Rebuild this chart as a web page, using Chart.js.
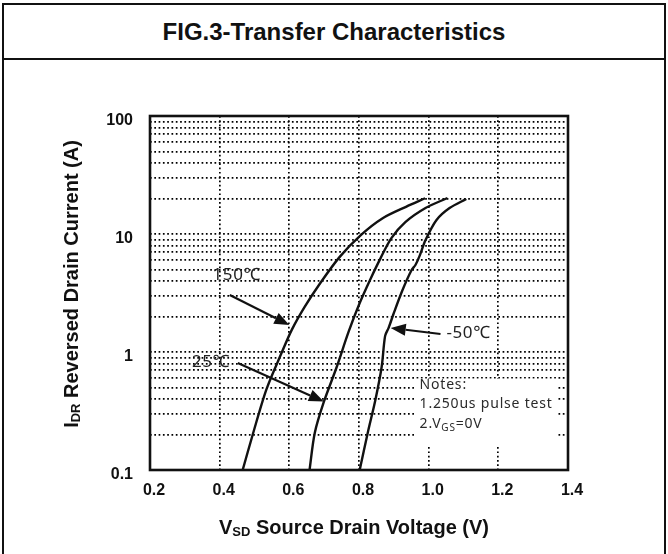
<!DOCTYPE html>
<html>
<head>
<meta charset="utf-8">
<title>FIG.3-Transfer Characteristics</title>
<script src="https://cdn.jsdelivr.net/npm/chart.js@4.4.1/dist/chart.umd.min.js"></script>
<style>
  html, body { margin: 0; padding: 0; background: #fff; overflow: hidden; }
  #wrap { position: relative; width: 668px; height: 554px; }
  #frame { position: absolute; left: 2px; top: 3px; width: 664px; height: 600px; box-sizing: border-box; border: 2px solid #111; }
  #title { position: absolute; left: 2px; top: 3px; width: 664px; height: 57px; box-sizing: border-box; border: 2px solid #111;
           font: bold 24px "Liberation Sans", Arial, sans-serif; color: #111; text-align: center; line-height: 53px; }
  #chart-box { position: absolute; left: 0; top: 0; width: 668px; height: 554px; }
</style>
</head>
<body>
<div id="wrap">
  <div id="frame"></div>
  <div id="title">FIG.3-Transfer Characteristics</div>
  <div id="chart-box"><canvas id="transferChart"></canvas></div>
</div>
<script>
"use strict";

// values (V_SD in volts, I_DR in amps)
var vsd150 = [0.466, 0.495, 0.534, 0.577, 0.607, 0.644, 0.687, 0.744, 0.806, 0.868, 0.935, 0.990];
var idr150 = [0.1, 0.2, 0.48, 0.97, 1.54, 2.41, 3.77, 6.37, 9.83, 13.6, 17.0, 20.1];

var vsd25 = [0.658, 0.673, 0.699, 0.736, 0.770, 0.802, 0.833, 0.862, 0.893, 0.933, 0.991, 1.054];
var idr25 = [0.1, 0.206, 0.377, 0.746, 1.48, 2.60, 4.16, 6.25, 9.23, 12.6, 16.6, 20.2];

var vsdM50 = [0.802, 0.825, 0.847, 0.865, 0.875, 0.885, 0.899, 0.925, 0.951, 0.962, 0.974, 0.991, 1.022, 1.060, 1.108];
var idrM50 = [0.1, 0.206, 0.392, 0.746, 1.37, 1.60, 2.10, 3.35, 4.95, 5.46, 6.52, 8.89, 13.1, 16.6, 19.8];

var seriesNames = ['150℃', '25℃', '-50℃'];

var xTicks = [0.2, 0.4, 0.6, 0.8, 1.0, 1.2, 1.4];
var yTicks = [0.1, 0.2, 0.3, 0.4, 0.5, 0.6, 0.7, 0.8, 0.9,
              1, 2, 3, 4, 5, 6, 7, 8, 9,
              10, 20, 30, 40, 50, 60, 70, 80, 90, 100];
var yTickLabels = ['0.1', '1', '10', '100'];

var transferChart = function () {
    var boldFont = '"Liberation Sans", Arial, sans-serif';
    var noteFont = '"Noto Sans", "DejaVu Sans", sans-serif';

    var toPoints = function (xs, ys) {
        return xs.map(function (v, i) { return { x: v, y: ys[i] }; });
    };

    // text with a subscript piece
    var drawSubText = function (ctx, parts, x, y, align) {
        var total = 0;
        parts.forEach(function (p) { ctx.font = p.font; total += ctx.measureText(p.text).width; });
        var cx = align === 'center' ? x - total / 2 : x;
        ctx.textAlign = 'left';
        ctx.textBaseline = 'alphabetic';
        parts.forEach(function (p) {
            ctx.font = p.font;
            ctx.fillText(p.text, cx, y + (p.dy || 0));
            cx += ctx.measureText(p.text).width;
        });
        return total;
    };

    var drawArrow = function (ctx, x1, y1, x2, y2) {
        var ang = Math.atan2(y2 - y1, x2 - x1);
        var headLen = 15, headW = 6;
        var bx = x2 - headLen * Math.cos(ang), by = y2 - headLen * Math.sin(ang);
        ctx.beginPath();
        ctx.moveTo(x1, y1);
        ctx.lineTo(bx, by);
        ctx.lineWidth = 2.2;
        ctx.strokeStyle = '#111';
        ctx.stroke();
        ctx.beginPath();
        ctx.moveTo(x2, y2);
        ctx.lineTo(bx + headW * Math.sin(ang), by - headW * Math.cos(ang));
        ctx.lineTo(bx - headW * Math.sin(ang), by + headW * Math.cos(ang));
        ctx.closePath();
        ctx.fillStyle = '#111';
        ctx.fill();
    };

    var decorPlugin = {
        id: 'sheetDecor',
        afterDatasetsDraw: function (chart) {
            var ctx = chart.ctx, area = chart.chartArea;
            var xs = chart.scales.x, ys = chart.scales.y;
            var px = function (v) { return xs.getPixelForValue(v); };
            var py = function (v) { return ys.getPixelForValue(v); };
            ctx.save();

            // white notes box over the grid
            var nx1 = px(0.963), nx2 = px(1.37), ny1 = py(0.595), ny2 = py(0.158);
            ctx.fillStyle = '#fff';
            ctx.fillRect(nx1, ny1, nx2 - nx1, ny2 - ny1);
            ctx.fillStyle = '#2a2a2a';
            var nLeft = px(0.974);
            ctx.letterSpacing = '0.8px';
            ctx.font = '14px ' + noteFont;
            ctx.textAlign = 'left';
            ctx.textBaseline = 'alphabetic';
            ctx.fillText('Notes:', nLeft, py(0.49));
            ctx.fillText('1.250us pulse test', nLeft, py(0.333));
            drawSubText(ctx, [
                { text: '2.V', font: '14px ' + noteFont },
                { text: 'GS', font: '10px ' + noteFont, dy: 3 },
                { text: '=0V', font: '14px ' + noteFont }
            ], nLeft, py(0.228), 'left');

            // curve labels and arrows
            ctx.letterSpacing = '0.6px';
            ctx.font = '17px ' + noteFont;
            ctx.fillStyle = '#222';
            ctx.textBaseline = 'middle';
            ctx.textAlign = 'center';
            ctx.fillText(seriesNames[0], px(0.449), py(4.5));
            ctx.fillText(seriesNames[1], px(0.375), py(0.82));
            ctx.textAlign = 'left';
            ctx.fillText(seriesNames[2], px(1.051), py(1.45));
            ctx.letterSpacing = '0px';
            drawArrow(ctx, px(0.429), py(3.04), px(0.600), py(1.69));
            drawArrow(ctx, px(0.452), py(0.807), px(0.699), py(0.38));
            drawArrow(ctx, px(1.034), py(1.42), px(0.891), py(1.6));

            // plot frame
            ctx.lineWidth = 2.6;
            ctx.strokeStyle = '#111';
            ctx.strokeRect(area.left, area.top, area.right - area.left, area.bottom - area.top);

            // axis titles with subscripts
            ctx.fillStyle = '#111';
            drawSubText(ctx, [
                { text: 'V', font: 'bold 20px ' + boldFont },
                { text: 'SD', font: 'bold 13px ' + boldFont, dy: 2 },
                { text: ' Source Drain Voltage (V)', font: 'bold 20px ' + boldFont }
            ], (area.left + area.right) / 2 - 5, area.bottom + 64, 'center');

            ctx.translate(area.left - 72, (area.top + area.bottom) / 2 - 9);
            ctx.rotate(-Math.PI / 2);
            drawSubText(ctx, [
                { text: 'I', font: 'bold 20px ' + boldFont },
                { text: 'DR', font: 'bold 13px ' + boldFont, dy: 2 },
                { text: ' Reversed Drain Current (A)', font: 'bold 20px ' + boldFont }
            ], 0, 0, 'center');
            ctx.restore();
        }
    };

    var lineStyle = {
        borderColor: '#111',
        borderWidth: 2.4,
        pointRadius: 0,
        fill: false,
        tension: 0.3
    };

    var gridStyle = { color: '#000', lineWidth: 1.7, drawTicks: false };
    var tickFont = { family: boldFont, size: 16, weight: 'bold' };

    var init = function () {
        var ctx = document.getElementById('transferChart').getContext('2d');
        new Chart(ctx, {
            type: 'line',
            data: {
                datasets: [
                    Object.assign({ label: seriesNames[0], data: toPoints(vsd150, idr150) }, lineStyle),
                    Object.assign({ label: seriesNames[1], data: toPoints(vsd25, idr25) }, lineStyle),
                    Object.assign({ label: seriesNames[2], data: toPoints(vsdM50, idrM50) }, lineStyle)
                ]
            },
            options: {
                responsive: true,
                maintainAspectRatio: false,
                animation: false,
                layout: { padding: { top: 116, right: 100, left: 0, bottom: 0 } },
                plugins: {
                    legend: { display: false },
                    tooltip: { enabled: false }
                },
                scales: {
                    x: {
                        type: 'linear',
                        min: 0.2,
                        max: 1.4,
                        afterBuildTicks: function (axis) {
                            axis.ticks = xTicks.map(function (v) { return { value: v }; });
                        },
                        afterFit: function (axis) { axis.height = 84; },
                        ticks: {
                            autoSkip: false,
                            maxRotation: 0,
                            padding: 11,
                            labelOffset: 4,
                            color: '#111',
                            font: tickFont,
                            callback: function (value) { return Number(value).toFixed(1); }
                        },
                        grid: gridStyle,
                        border: { display: false, dash: [1.7, 2.6] }
                    },
                    y: {
                        type: 'logarithmic',
                        min: 0.1,
                        max: 100,
                        afterBuildTicks: function (axis) {
                            axis.ticks = yTicks.map(function (v) { return { value: v }; });
                        },
                        afterFit: function (axis) { axis.width = 150; },
                        ticks: {
                            autoSkip: false,
                            padding: 17,
                            labelOffset: 5,
                            color: '#111',
                            font: tickFont,
                            callback: function (value) {
                                var s = String(value);
                                return yTickLabels.indexOf(s) >= 0 ? s : '';
                            }
                        },
                        grid: gridStyle,
                        border: { display: false, dash: [1.7, 2.6] }
                    }
                }
            },
            plugins: [decorPlugin]
        });
    };

    return { init: init };
}();

transferChart.init();
</script>
</body>
</html>
